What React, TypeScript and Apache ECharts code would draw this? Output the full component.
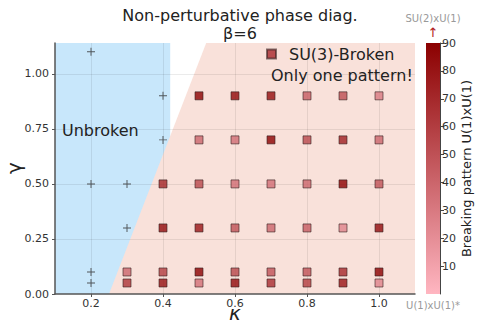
import React, { useEffect, useRef } from "react";
import * as echarts from "echarts";

const xTicks = [0.2, 0.4, 0.6, 0.8, 1.0];
const yTicks = [0, 0.25, 0.5, 0.75, 1.0];
const cbTicks = [10, 20, 30, 40, 50, 60, 70, 80, 90];

const unbrokenKappa = [0.2, 0.4, 0.4, 0.2, 0.3, 0.3, 0.2, 0.2];
const unbrokenGamma = [1.1, 0.9, 0.7, 0.5, 0.5, 0.3, 0.1, 0.05];

const brokenGammaRows = [0.9, 0.7, 0.5, 0.3, 0.1, 0.05];
const brokenKappaRows = [
  [0.5, 0.6, 0.7, 0.8, 0.9, 1.0],
  [0.5, 0.6, 0.7, 0.8, 0.9, 1.0],
  [0.4, 0.5, 0.6, 0.7, 0.8, 0.9, 1.0],
  [0.4, 0.5, 0.6, 0.7, 0.8, 0.9, 1.0],
  [0.3, 0.4, 0.5, 0.6, 0.7, 0.8, 0.9, 1.0],
  [0.3, 0.4, 0.5, 0.6, 0.7, 0.8, 0.9, 1.0],
];
const brokenPatternRows = [
  [90, 86, 84, 45, 52, 30],
  [40, 36, 90, 55, 75, 40],
  [72, 55, 36, 36, 40, 90, 50],
  [85, 80, 50, 40, 45, 25, 85],
  [40, 60, 90, 55, 50, 50, 70, 90],
  [65, 82, 35, 85, 68, 60, 80, 25],
];

const unbrokenRegion = [
  [0.1, 0],
  [0.1, 1.14],
  [0.42, 1.14],
  [0.42, 0],
];
const brokenRegion = [
  [0.25, 0],
  [0.52, 1.14],
  [1.1, 1.14],
  [1.1, 0],
];

const FONT = "DejaVu Sans";

function polygonSeries(region: number[][], color: string, extra: any = {}) {
  return {
    type: "custom",
    xAxisIndex: 0,
    yAxisIndex: 0,
    z: 0,
    silent: true,
    data: region,
    renderItem: (params: any, api: any) => {
      if (params.dataIndex !== 0) return null;
      const pts = region.map((p) => api.coord(p));
      return {
        type: "polygon",
        shape: { points: pts },
        style: { fill: color, stroke: "none" },
      };
    },
    ...extra,
  };
}

export default function App() {
  const ref = useRef<HTMLDivElement>(null);
  useEffect(() => {
    if (!ref.current) return;
    const chart = echarts.init(ref.current, null, { renderer: "svg" });

    const brokenData: number[][] = [];
    brokenGammaRows.forEach((g, i) => {
      brokenKappaRows[i].forEach((k, j) => {
        brokenData.push([k, g, brokenPatternRows[i][j]]);
      });
    });
    const unbrokenData = unbrokenKappa.map((k, i) => [k, unbrokenGamma[i]]);

    const gridLineStyle = { color: "rgba(0,0,0,0.08)", width: 1, type: "solid" };

    chart.setOption({
      animation: false,
      backgroundColor: "#ffffff",
      title: {
        text: "Non-perturbative phase diag.\nβ=6",
        left: 235,
        top: 1,
        textAlign: "center",
        textStyle: {
          fontFamily: FONT,
          fontSize: 16,
          fontWeight: "normal",
          color: "#222",
          lineHeight: 18,
        },
      },
      legend: {
        data: ["SU(3)-Broken"],
        left: 266,
        top: 46,
        padding: 0,
        itemWidth: 9,
        itemHeight: 9,
        icon: "rect",
        textStyle: {
          fontFamily: FONT,
          fontSize: 16,
          color: "#222",
          padding: [0, 0, 0, 8],
        },
      },
      grid: [
        {
          left: 55,
          top: 43,
          width: 360,
          height: 251,
          containLabel: false,
          outerBoundsMode: "none",
        },
        {
          left: 426,
          top: 43,
          width: 14,
          height: 251,
          containLabel: false,
          outerBoundsMode: "none",
        },
      ],
      xAxis: [
        {
          type: "value",
          gridIndex: 0,
          min: 0.1,
          max: 1.1,
          axisLine: { show: true, lineStyle: { color: "#555", width: 1.5 } },
          axisTick: {
            show: true,
            customValues: xTicks,
            length: 3,
            lineStyle: { color: "#555" },
          },
          axisLabel: {
            customValues: xTicks,
            formatter: (v: number) => v.toFixed(1),
            fontFamily: FONT,
            fontSize: 11,
            color: "#333",
            margin: 4,
          },
          splitLine: { show: false },
        },
        {
          type: "category",
          gridIndex: 1,
          data: ["cb"],
          show: false,
        },
      ],
      yAxis: [
        {
          type: "value",
          gridIndex: 0,
          min: 0,
          max: 1.14,
          axisLine: { show: true, lineStyle: { color: "#555", width: 1.5 } },
          axisTick: {
            show: true,
            customValues: yTicks,
            length: 3,
            lineStyle: { color: "#555" },
          },
          axisLabel: {
            customValues: yTicks,
            formatter: (v: number) => v.toFixed(2),
            fontFamily: FONT,
            fontSize: 11,
            color: "#333",
            margin: 6,
          },
          splitLine: { show: false },
        },
        {
          type: "value",
          gridIndex: 1,
          position: "right",
          min: 0,
          max: 90,
          name: "Breaking pattern U(1)xU(1)",
          nameLocation: "middle",
          nameRotate: 90,
          nameGap: 20,
          nameTextStyle: { fontFamily: FONT, fontSize: 13, color: "#222" },
          axisLine: { show: true, lineStyle: { color: "#444", width: 1 } },
          axisTick: {
            show: true,
            customValues: cbTicks,
            length: 4,
            lineStyle: { color: "#444" },
          },
          axisLabel: {
            customValues: cbTicks,
            fontFamily: FONT,
            fontSize: 11,
            color: "#333",
            margin: 2,
          },
          splitLine: { show: false },
        },
      ],
      visualMap: {
        show: false,
        type: "continuous",
        seriesIndex: 3,
        dimension: 2,
        min: 0,
        max: 90,
        inRange: { color: ["#ffb6c1", "#8b0000"] },
      },
      graphic: [
        {
          type: "text",
          x: 235,
          y: 313,
          style: {
            text: "κ",
            fontFamily: FONT,
            fontSize: 20,
            fontStyle: "italic",
            fill: "#222",
            align: "center",
            verticalAlign: "middle",
          },
        },
        {
          type: "text",
          x: 14,
          y: 168,
          rotation: Math.PI / 2,
          style: {
            text: "γ",
            fontFamily: FONT,
            fontSize: 20,
            fill: "#222",
            align: "center",
            verticalAlign: "middle",
          },
        },
        {
          type: "text",
          left: 62,
          top: 122,
          style: {
            text: "Unbroken",
            fontFamily: FONT,
            fontSize: 16,
            fill: "#222",
          },
          z: 10,
        },
        {
          type: "text",
          left: 271,
          top: 67,
          style: {
            text: "Only one pattern!",
            fontFamily: FONT,
            fontSize: 16,
            fill: "#222",
          },
          z: 10,
        },
        {
          type: "text",
          x: 433,
          y: 18,
          style: {
            text: "SU(2)xU(1)",
            fontFamily: FONT,
            fontSize: 10,
            fill: "#999",
            align: "center",
            verticalAlign: "middle",
          },
        },
        {
          type: "text",
          x: 433,
          y: 32,
          style: {
            text: "↑",
            fontFamily: FONT,
            fontSize: 13,
            fill: "#b22222",
            align: "center",
            verticalAlign: "middle",
          },
        },
        {
          type: "text",
          x: 433,
          y: 305,
          style: {
            text: "U(1)xU(1)*",
            fontFamily: FONT,
            fontSize: 10,
            fill: "#999",
            align: "center",
            verticalAlign: "middle",
          },
        },
      ],
      series: [
        polygonSeries(unbrokenRegion, "#c8e7fb"),
        polygonSeries(brokenRegion, "#f9e1da", {
          markLine: {
            silent: true,
            symbol: "none",
            z: 1,
            label: { show: false },
            lineStyle: gridLineStyle,
            data: [
              ...xTicks.map((v) => ({ xAxis: v })),
              ...yTicks.filter((v) => v > 0).map((v) => ({ yAxis: v })),
            ],
          },
        }),
        {
          name: "Unbroken",
          type: "scatter",
          xAxisIndex: 0,
          yAxisIndex: 0,
          z: 3,
          symbol:
            "path://M-0.12,-1H0.12V-0.12H1V0.12H0.12V1H-0.12V0.12H-1V-0.12H-0.12Z",
          symbolSize: 8,
          itemStyle: { color: "#333" },
          data: unbrokenData,
        },
        {
          name: "SU(3)-Broken",
          type: "scatter",
          xAxisIndex: 0,
          yAxisIndex: 0,
          z: 4,
          symbol: "rect",
          symbolSize: 8,
          itemStyle: {
            color: "#a8282c",
            borderColor: "rgba(50,30,30,0.75)",
            borderWidth: 1,
          },
          data: brokenData,
        },
        {
          type: "bar",
          xAxisIndex: 1,
          yAxisIndex: 1,
          barWidth: "100%",
          silent: true,
          data: [90],
          itemStyle: {
            color: new echarts.graphic.LinearGradient(0, 0, 0, 1, [
              { offset: 0, color: "#8b0000" },
              { offset: 1, color: "#ffb6c1" },
            ]),
          },
        },
      ],
    });
    return () => chart.dispose();
  }, []);
  return (
    <div
      ref={ref}
      style={{ position: "fixed", left: 0, top: 0, width: 480, height: 324 }}
    />
  );
}
